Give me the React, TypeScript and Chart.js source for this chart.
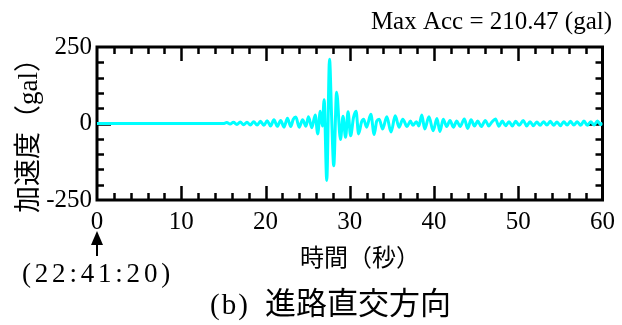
import { useEffect, useRef } from 'react';
import { Chart, registerables } from 'chart.js';

Chart.register(...registerables);

// Time (s) of each sampled point of the record
const timesSec = [
  0, 5, 10, 14.5, 15.0, 15.4, 15.8, 16.2, 16.6, 17.0, 17.4, 17.8, 18.2, 18.6, 19.0, 19.4, 19.8,
  20.2, 20.6, 21.0, 21.4, 21.8, 22.2, 22.6, 23.0, 23.3, 23.6, 24.0, 24.4, 24.8, 25.1, 25.5, 25.9,
  26.2, 26.5, 26.75, 26.96, 27.27, 27.6, 27.85, 28.1, 28.44, 28.9, 29.2, 29.5, 29.8, 30.1, 30.45,
  30.75, 31.05, 31.4, 31.65, 32.0, 32.5, 32.9, 33.2, 33.5, 33.9, 34.4, 34.9, 35.4, 35.85, 36.3,
  36.8, 37.2, 37.5, 37.9, 38.2, 38.55, 38.9, 39.4, 39.9, 40.35, 40.7, 41.1, 41.5, 41.9, 42.3, 42.7,
  43.1, 43.6, 44.0, 44.4, 44.8, 45.2, 45.6, 46.1, 46.5, 46.9, 47.3, 47.7, 48.1, 48.5, 48.9, 49.3,
  49.7, 50.1, 50.6, 51.0, 51.4, 51.8, 52.2, 52.6, 53.0, 53.4, 53.8, 54.2, 54.6, 55.0, 55.4, 55.8,
  56.2, 56.6, 57.0, 57.4, 57.8, 58.2, 58.6, 59.0, 59.4, 59.8, 60.0,
];

// Acceleration (gal)
const accGal = [
  0, 0, 0, 0, 0, 3, -2, 4, -3, 5, -4, 4, -5, 6, -5, 7, -6,
  9, -8, 12, -9, 10, -12, 17, -10, 14, 21, -12, 12, -9, 22, -14, 28,
  -34, 40, -8, 78, -186, 210, 20, -138, 102, -52, 24, -45, 38, -40, 20,
  40, -34, 5, 14, -12, 30, -36, 8, 14, -18, 22, -28, 25, -12, 14,
  -10, 8, -6, 6, -8, 28, -18, 22, -24, 16, -26, 14, -10, 10, -12, 8,
  -10, 15, -16, 12, -8, 8, -10, 10, -8, 6, 15, -9, 8, -7, 6, -8,
  7, -6, 10, -8, 6, -7, 5, -6, 6, -5, 7, -6, 5, -7, 6, -5,
  7, -5, 6, -6, 8, -6, 6, -5, 8, -4, 2,
];

const xTickValues = [0, 10, 20, 30, 40, 50, 60];
const yTickValues = [-250, 0, 250];
const maxAccText = 'Max Acc = 210.47 (gal)';
const yTitle = '加速度（gal）';
const xTitle = '時間（秒）';
const startTimeText = '(22:41:20)';
const panelLabel = '(b)';
const panelTitle = '進路直交方向';

const SERIF = "'Liberation Serif', 'Noto Sans CJK JP', serif";

const decorPlugin = {
  id: 'decor',
  beforeDatasetsDraw(chart: any) {
    const { ctx, chartArea } = chart;
    const xs = chart.scales.x;
    const ys = chart.scales.y;
    ctx.save();
    ctx.strokeStyle = '#000';
    ctx.lineWidth = 2.5;
    ctx.beginPath();
    for (let v = 2; v < 60; v += 2) {
      const px = Math.round(xs.getPixelForValue(v)) + 0.5;
      const len = v % 10 === 0 ? 14 : 7;
      ctx.moveTo(px, chartArea.bottom);
      ctx.lineTo(px, chartArea.bottom - len);
      ctx.moveTo(px, chartArea.top);
      ctx.lineTo(px, chartArea.top + len);
    }
    for (let v = -200; v <= 200; v += 50) {
      const py = Math.round(ys.getPixelForValue(v)) + 0.5;
      const len = v === 0 ? 14 : 7;
      ctx.moveTo(chartArea.left, py);
      ctx.lineTo(chartArea.left + len, py);
      ctx.moveTo(chartArea.right, py);
      ctx.lineTo(chartArea.right - len, py);
    }
    ctx.stroke();
    ctx.lineWidth = 3;
    ctx.strokeRect(chartArea.left, chartArea.top, chartArea.right - chartArea.left, chartArea.bottom - chartArea.top);
    ctx.restore();
  },
  afterDraw(chart: any) {
    const { ctx } = chart;
    const xs = chart.scales.x;
    const x0 = xs.getPixelForValue(0);
    ctx.save();
    ctx.fillStyle = '#000';
    ctx.strokeStyle = '#000';

    // Max acc text
    ctx.font = `25px ${SERIF}`;
    ctx.textAlign = 'right';
    ctx.textBaseline = 'middle';
    ctx.fillText(maxAccText, 612, 22);

    // Y title (rotated)
    ctx.save();
    ctx.translate(30, 129);
    ctx.rotate(-Math.PI / 2);
    ctx.textAlign = 'center';
    ctx.textBaseline = 'middle';
    ctx.font = `27px ${SERIF}`;
    ctx.fillText(yTitle, 0, 0);
    ctx.restore();

    // X title
    ctx.font = `24px ${SERIF}`;
    ctx.textAlign = 'center';
    ctx.textBaseline = 'middle';
    ctx.fillText(xTitle, 360, 260);

    // Arrow at t = 0
    ctx.lineWidth = 2;
    ctx.beginPath();
    ctx.moveTo(x0, 256);
    ctx.lineTo(x0, 242);
    ctx.stroke();
    ctx.beginPath();
    ctx.moveTo(x0, 231);
    ctx.lineTo(x0 - 6, 245);
    ctx.lineTo(x0 + 6, 245);
    ctx.closePath();
    ctx.fill();

    // Start time
    ctx.font = `27px ${SERIF}`;
    (ctx as any).letterSpacing = '3.8px';
    ctx.textAlign = 'left';
    ctx.fillText(startTimeText, 22, 275);
    (ctx as any).letterSpacing = '0px';

    // Panel caption
    ctx.font = `29px ${SERIF}`;
    ctx.textAlign = 'center';
    (ctx as any).letterSpacing = '2px';
    ctx.fillText(panelLabel, 230, 306);
    (ctx as any).letterSpacing = '0px';
    ctx.textAlign = 'left';
    ctx.font = `31px ${SERIF}`;
    ctx.fillText(panelTitle, 265, 306);
    ctx.restore();
  },
};

export default function App() {
  const canvasRef = useRef<HTMLCanvasElement | null>(null);

  useEffect(() => {
    if (!canvasRef.current) return;
    const chart = new Chart(canvasRef.current, {
      type: 'line',
      data: {
        datasets: [
          {
            data: timesSec.map((t, i) => ({ x: t, y: accGal[i] })),
            borderColor: '#00FFFF',
            borderWidth: 3,
            pointRadius: 0,
            fill: false,
            cubicInterpolationMode: 'monotone',
          },
        ],
      },
      options: {
        responsive: false,
        animation: false,
        devicePixelRatio: 1,
        layout: { padding: { top: 47, right: 14, left: 0, bottom: 0 } },
        plugins: { legend: { display: false }, tooltip: { enabled: false }, title: { display: false } },
        scales: {
          x: {
            type: 'linear',
            min: 0,
            max: 60,
            grid: { display: false, drawTicks: false },
            border: { display: false },
            afterBuildTicks: (scale: any) => {
              scale.ticks = xTickValues.map((v) => ({ value: v }));
            },
            afterFit: (scale: any) => {
              scale.height = 125;
            },
            ticks: {
              color: '#000',
              font: { family: SERIF, size: 25 },
              padding: 7,
              maxRotation: 0,
              autoSkip: false,
            },
          },
          y: {
            type: 'linear',
            min: -250,
            max: 250,
            grid: { display: false, drawTicks: false },
            border: { display: false },
            afterBuildTicks: (scale: any) => {
              scale.ticks = yTickValues.map((v) => ({ value: v }));
            },
            afterFit: (scale: any) => {
              scale.width = 97;
            },
            ticks: {
              color: '#000',
              font: { family: SERIF, size: 25 },
              padding: 5,
              autoSkip: false,
            },
          },
        },
      },
      plugins: [decorPlugin],
    } as any);
    return () => chart.destroy();
  }, []);

  return (
    <canvas
      ref={canvasRef}
      width={622}
      height={325}
      style={{ position: 'fixed', left: 0, top: 0, width: 622, height: 325, display: 'block' }}
    />
  );
}
